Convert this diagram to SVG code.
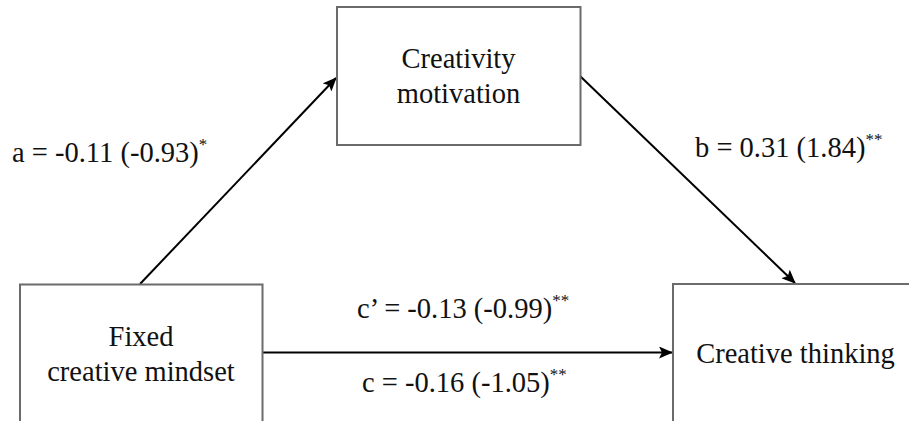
<svg xmlns="http://www.w3.org/2000/svg" width="909" height="421" viewBox="0 0 909 421">
<style>
.box{fill:#fff;stroke:#6b6b6b;stroke-width:2}
.t{font-family:"Liberation Serif","Times New Roman",serif;font-size:28.5px;fill:#111}
.lbl{font-family:"Liberation Serif","Times New Roman",serif;font-size:28.5px;fill:#111}
.sup{font-size:17px}
.edge{stroke:#000;stroke-width:2;fill:none;marker-end:url(#ah)}
</style>
<defs>
<marker id="ah" markerUnits="userSpaceOnUse" markerWidth="14" markerHeight="12" refX="13" refY="6" orient="auto">
<path d="M0,0 L14,6 L0,12 L3,6 Z" fill="#000"/>
</marker>
</defs>
<rect width="909" height="421" fill="#fff"/>
<g id="connectors">
<line class="edge" x1="140" y1="284" x2="336" y2="78"/>
<line class="edge" x1="580" y1="76" x2="795" y2="283"/>
<line class="edge" x1="263" y1="352.5" x2="672" y2="352.5"/>
</g>
<g id="node-motivation">
<rect class="box" x="337" y="7" width="243.5" height="138"/>
<text class="t" x="458.5" y="68" text-anchor="middle">Creativity</text>
<text class="t" x="458.5" y="103" text-anchor="middle">motivation</text>
</g>
<g id="node-mindset">
<rect class="box" x="20" y="284.5" width="242.5" height="150"/>
<text class="t" x="141" y="346" text-anchor="middle">Fixed</text>
<text class="t" x="141" y="381" text-anchor="middle">creative mindset</text>
</g>
<g id="node-thinking">
<rect class="box" x="673" y="284" width="246" height="150"/>
<text class="t" x="795.5" y="362.5" text-anchor="middle">Creative thinking</text>
</g>
<g id="labels">
<text class="lbl" x="12" y="162">a = -0.11 (-0.93)<tspan class="sup" dy="-12">*</tspan></text>
<text class="lbl" x="695" y="157">b = 0.31 (1.84)<tspan class="sup" dy="-12">**</tspan></text>
<text class="lbl" x="357" y="318">c’ = -0.13 (-0.99)<tspan class="sup" dy="-12">**</tspan></text>
<text class="lbl" x="362" y="392">c = -0.16 (-1.05)<tspan class="sup" dy="-12">**</tspan></text>
</g>
</svg>
